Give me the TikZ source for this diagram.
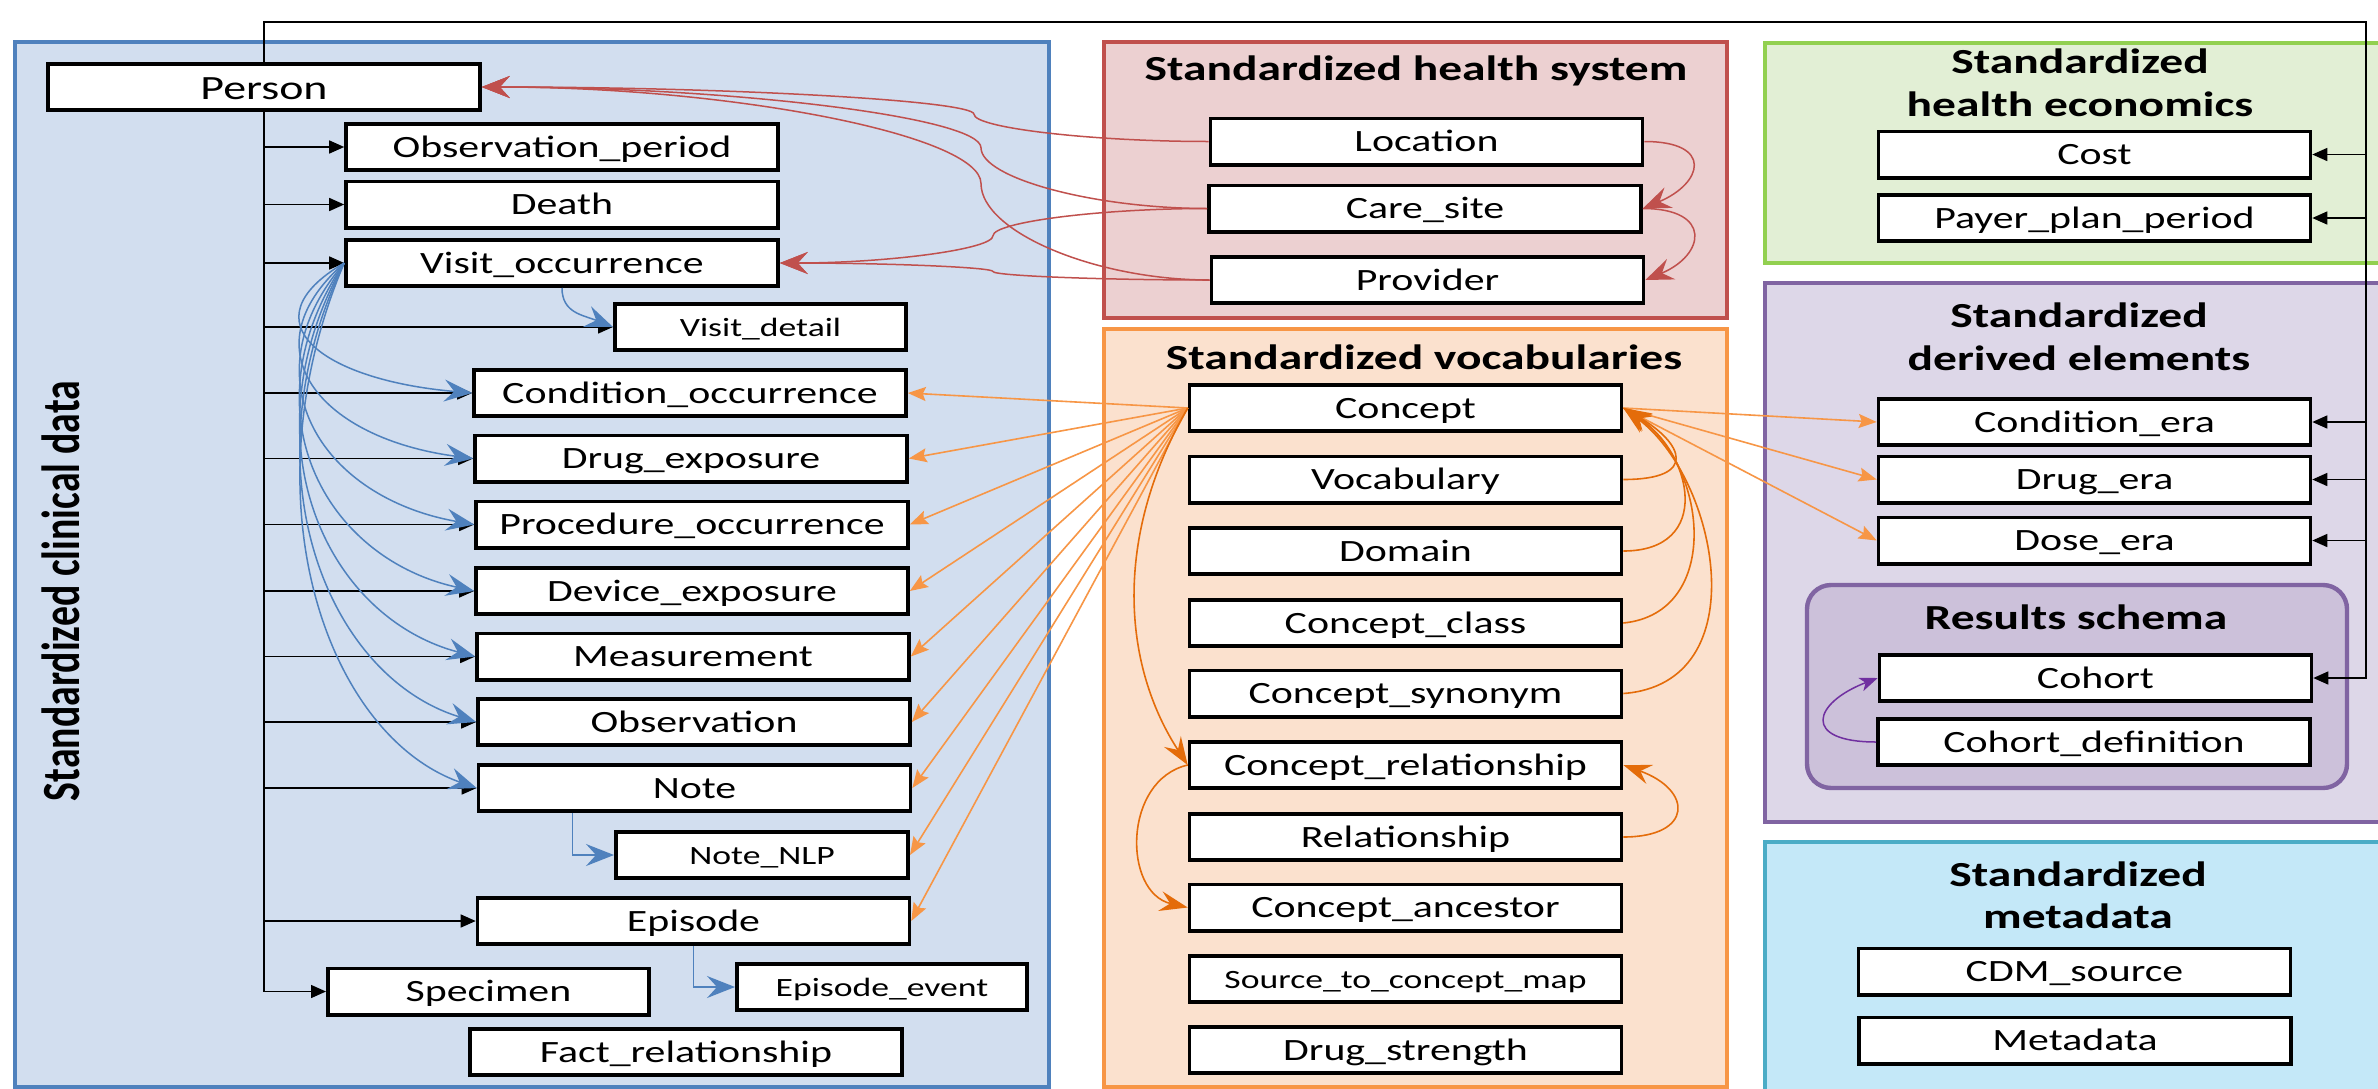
\documentclass[tikz,border=0pt]{standalone}
\usepackage{graphicx}
\usepackage{fontspec}
\setmainfont{Carlito}[FakeStretch=1.35]
\newfontfamily\rotfont{Carlito}
\usetikzlibrary{arrows.meta,calc}
\definecolor{fblue}{RGB}{210,222,239}
\definecolor{cblue}{RGB}{79,129,189}
\definecolor{fred}{RGB}{236,208,209}
\definecolor{cred}{RGB}{192,80,77}
\definecolor{forange}{RGB}{251,225,206}
\definecolor{corange}{RGB}{247,150,70}
\definecolor{dorange}{RGB}{228,108,10}
\definecolor{fgreen}{RGB}{226,239,213}
\definecolor{cgreen}{RGB}{146,208,80}
\definecolor{fpurple}{RGB}{221,215,232}
\definecolor{fres}{RGB}{204,193,218}
\definecolor{cpurple}{RGB}{128,100,162}
\definecolor{apurple}{RGB}{112,48,160}
\definecolor{fcyan}{RGB}{196,232,248}
\definecolor{ccyan}{RGB}{75,172,198}
\newcommand\pptcurve[4]{\draw[#1] let \p1=(#2), \p2=(#3) in (\p1) .. controls ({(\x1+#4)/2},\y1) and (#4,{(3*\y1+\y2)/4}) .. (#4,{(\y1+\y2)/2}) .. controls (#4,{(\y1+3*\y2)/4}) and ({(#4+\x2)/2},\y2) .. (\p2);}
\begin{document}
\begin{tikzpicture}[x=0.5pt,y=-0.5pt,
  panel/.style={line width=2.2pt},
  tbl/.style={draw=black, line width=1.8pt, fill=white, inner sep=0pt, minimum height=23.2pt, minimum width=216pt, text height=10pt, text depth=0pt, font=\fontsize{15.5}{18}\selectfont},
  sm/.style={font=\fontsize{13.2}{16}\selectfont, text height=9pt},
  ttl/.style={font=\fontsize{17.6}{21}\selectfont\bfseries, anchor=base, inner sep=0pt},
  blk/.style={line width=0.75pt, -{Triangle[length=7.5pt,width=6.5pt]}},
  bigst/.style={-{Stealth[length=14pt,width=11pt,inset=5pt]}},
  redc/.style={draw=cred, line width=0.75pt, bigst},
  bluec/.style={draw=cblue, line width=0.75pt, bigst},
  orl/.style={draw=corange, line width=0.8pt, -{Stealth[length=9pt,width=7pt,inset=1.5pt]}},
  orc/.style={draw=dorange, line width=0.8pt, -{Stealth[length=14pt,width=10pt,inset=5pt]}},
  purc/.style={draw=apurple, line width=0.75pt, -{Stealth[length=9pt,width=7pt,inset=2.5pt]}}
]
\useasboundingbox (0,0) rectangle (2378,1088);
\clip (0,0) rectangle (2378,1088);
\fill[white] (0,0) rectangle (2378,1088);
% panels
\draw[panel, draw=cblue, fill=fblue] (15,42) rectangle (1049,1087);
\draw[panel, draw=cred, fill=fred] (1104,42) rectangle (1727,318);
\draw[panel, draw=corange, fill=forange] (1104,329) rectangle (1727,1087);
\draw[panel, draw=cgreen, fill=fgreen] (1765,43) rectangle (2400,263);
\draw[panel, draw=cpurple, fill=fpurple] (1765,283) rectangle (2400,822);
\draw[panel, draw=cpurple, fill=fres, rounded corners=12pt] (1807,585) rectangle (2347,788);
\draw[panel, draw=ccyan, fill=fcyan] (1765,842) rectangle (2400,1095);
% titles
\node[rotate=90, inner sep=0pt] (tclin) at (61,591) {\scalebox{1}[1.35]{\rotfont\bfseries\fontsize{19.9}{24}\selectfont Standardized clinical data}};
\node[ttl] (ths) at (1416,80.7) {Standardized health system};
\node[ttl] (tvoc) at (1424,369.3) {Standardized vocabularies};
\node[ttl] (the1) at (2080,73.3) {Standardized};
\node[ttl] (the2) at (2080,116) {health economics};
\node[ttl] (tde1) at (2079,327.3) {Standardized};
\node[ttl] (tde2) at (2079,370.7) {derived elements};
\node[ttl] (tres) at (2076,629.3) {Results schema};
\node[ttl] (tmd1) at (2078,886.7) {Standardized};
\node[ttl] (tmd2) at (2078,928.3) {metadata};
% clinical tables
\node[tbl, font=\fontsize{17}{20}\selectfont, text height=12.3pt] (person) at (264,87) {Person};
\node[tbl] (obsp) at (562,147) {Observation\_period};
\node[tbl] (death) at (562,204.5) {Death};
\node[tbl] (visit) at (562,263) {Visit\_occurrence};
\node[tbl, sm, minimum width=145.7pt] (vdet) at (760.5,327) {Visit\_detail};
\node[tbl] (cond) at (690,393) {Condition\_occurrence};
\node[tbl] (drug) at (691,458.5) {Drug\_exposure};
\node[tbl] (proc) at (692,524.5) {Procedure\_occurrence};
\node[tbl] (dev) at (692,591) {Device\_exposure};
\node[tbl] (meas) at (693,656.5) {Measurement};
\node[tbl] (obsv) at (694,722) {Observation};
\node[tbl] (note) at (694.5,788) {Note};
\node[tbl, sm, minimum width=146.2pt] (nlp) at (762,855) {Note\_NLP};
\node[tbl] (epi) at (693.5,921) {Episode};
\node[tbl, minimum width=160.7pt] (spec) at (488.5,991.5) {Specimen};
\node[tbl, sm, minimum width=145.2pt] (epev) at (882,987) {Episode\_event};
\node[tbl] (fact) at (686,1052) {Fact\_relationship};
% health system
\node[tbl] (loc) at (1426.5,141.5) {Location};
\node[tbl] (care) at (1425,208.5) {Care\_site};
\node[tbl] (prov) at (1427.5,280) {Provider};
% vocabularies
\node[tbl] (con) at (1405.5,408) {Concept};
\node[tbl] (voc) at (1405.5,479.5) {Vocabulary};
\node[tbl] (dom) at (1405.5,551) {Domain};
\node[tbl] (ccl) at (1405.5,623) {Concept\_class};
\node[tbl] (csy) at (1405.5,693.5) {Concept\_synonym};
\node[tbl] (crel) at (1405.5,765) {Concept\_relationship};
\node[tbl] (rel) at (1405.5,837) {Relationship};
\node[tbl] (canc) at (1405.5,907.5) {Concept\_ancestor};
\node[tbl, sm] (s2c) at (1405.5,979) {Source\_to\_concept\_map};
\node[tbl] (dstr) at (1405.5,1050) {Drug\_strength};
% economics
\node[tbl] (cost) at (2094.5,154.5) {Cost};
\node[tbl] (payer) at (2094.5,218) {Payer\_plan\_period};
% derived
\node[tbl] (cera) at (2094.5,422) {Condition\_era};
\node[tbl] (dera) at (2094.5,479.5) {Drug\_era};
\node[tbl] (dose) at (2094.5,540.5) {Dose\_era};
\node[tbl] (cohort) at (2095.5,678) {Cohort};
\node[tbl] (cdef) at (2094,742) {Cohort\_definition};
% metadata
\node[tbl] (cdm) at (2074.5,971.5) {CDM\_source};
\node[tbl] (meta) at (2075,1040.5) {Metadata};
% black connectors
\draw[blk] (person.south) |- (spec.west);
\foreach \t in {obsp,death,visit,vdet,cond,drug,proc,dev,meas,obsv,note,epi}
  \draw[blk] (person.south |- \t.west) -- (\t.west);
\coordinate (tr) at (2366,22);
\draw[blk] (person.north) |- (tr) |- (cohort.east);
\foreach \t in {cost,payer,cera,dera,dose}
  \draw[blk] (tr |- \t.east) -- (\t.east);
% blue connectors
\foreach \t in {cond,drug,proc,dev,meas,obsv,note}
  \draw[bluec] let \p1=(visit.west), \p2=(\t.west) in (\p1) .. controls ({\x1-50pt},{\y1+0.45*(\y2-\y1)}) and ({\x2-75pt},{\y2-0.1*(\y2-\y1)}) .. (\p2);
\draw[bluec] (visit.south) .. controls +(0,25) and +(-30,-12) .. (vdet.west);
\draw[bluec] ([xshift=-61pt]note.south) |- (nlp.west);
\draw[bluec] (epi.south) |- (epev.west);
% red connectors
\draw[redc] (loc.east) .. controls +(70,0) and +(60,-25) .. (care.east);
\draw[redc] (care.east) .. controls +(70,0) and +(60,-25) .. (prov.east);
\pptcurve{redc}{loc.west}{person.east}{487pt}
\pptcurve{redc}{care.west}{person.east}{490.5pt}
\pptcurve{redc}{prov.west}{person.east}{490.5pt}
\pptcurve{redc}{care.west}{visit.east}{496.5pt}
\pptcurve{redc}{prov.west}{visit.east}{496.5pt}
% orange connectors
\foreach \t in {cond,drug,proc,dev,meas,obsv,note,nlp,epi}
  \draw[orl] (con.west) -- (\t.east);
\foreach \t in {cera,dera,dose}
  \draw[orl] (con.east) -- (\t.west);
\draw[orc] (voc.east) .. controls +(76,0) and +(60,35) .. (con.east);
\draw[orc] (dom.east) .. controls +(90,0) and +(70,45) .. (con.east);
\draw[orc] (ccl.east) .. controls +(100,-10) and +(84,55) .. (con.east);
\draw[orc] (csy.east) .. controls +(135,-10) and +(95,70) .. (con.east);
\draw[orc] (con.west) .. controls +(-75,130) and +(-65,-100) .. (crel.west);
\draw[orc] (crel.west) .. controls +(-65,15) and +(-65,-15) .. (canc.west);
\draw[orc] (rel.east) .. controls +(70,0) and +(70,25) .. (crel.east);
% purple connector
\draw[purc] (cdef.west) .. controls +(-75,0) and +(-65,25) .. (cohort.west);
\end{tikzpicture}
\end{document}
